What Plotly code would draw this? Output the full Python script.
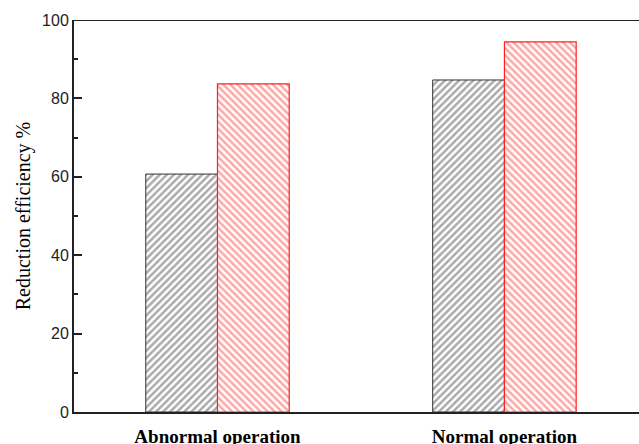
import plotly.graph_objects as go

categories = ["Abnormal operation", "Normal operation"]
series_a = [60.7, 84.7]   # black, forward hatch
series_b = [83.7, 94.4]   # red, backward hatch

fig = go.Figure()
fig.add_trace(go.Bar(
    x=categories, y=series_a, name="A",
    marker=dict(color="white", line=dict(color="#333333", width=1),
                pattern=dict(shape="/", fgcolor="#555555", bgcolor="white",
                             size=5, solidity=0.5)),
))
fig.add_trace(go.Bar(
    x=categories, y=series_b, name="B",
    marker=dict(color="white", line=dict(color="#ff2020", width=1.2),
                pattern=dict(shape="\\", fgcolor="#ff5050", bgcolor="white",
                             size=5, solidity=0.5)),
))

fig.update_layout(
    width=639, height=444,
    margin=dict(l=74, r=0, t=20, b=32),
    paper_bgcolor="white", plot_bgcolor="white",
    barmode="group", bargap=0.5, bargroupgap=0,
    showlegend=False,
    xaxis=dict(
        range=[-0.5, 1.469], showline=True, linecolor="#222222", linewidth=2,
        ticks="", showgrid=False, zeroline=False, automargin=False,
        tickfont=dict(family="Liberation Serif", size=19, color="black"),
        ticklabelstandoff=6,
    ),
    yaxis=dict(
        range=[0, 100], showline=True, linecolor="#222222", linewidth=2,
        ticks="inside", ticklen=8, tickwidth=2, tickcolor="#222222",
        tickvals=[0, 20, 40, 60, 80, 100], showgrid=False, zeroline=False,
        automargin=False,
        minor=dict(ticks="inside", ticklen=4, tickwidth=2, tickcolor="#222222",
                   tickvals=[10, 30, 50, 70, 90]),
        tickfont=dict(family="Liberation Sans", size=16, color="#222222"),
        title=dict(text="Reduction efficiency %", standoff=6,
                   font=dict(family="Liberation Serif", size=20, color="black")),
    ),
)
# top frame line (the frame continues past the right edge)
fig.add_shape(type="line", xref="paper", yref="y", x0=0, x1=1, y0=100, y1=100,
              line=dict(color="#222222", width=2))
fig.update_xaxes(tickprefix="<b>", ticksuffix="</b>")

fig.write_html("out.html")
